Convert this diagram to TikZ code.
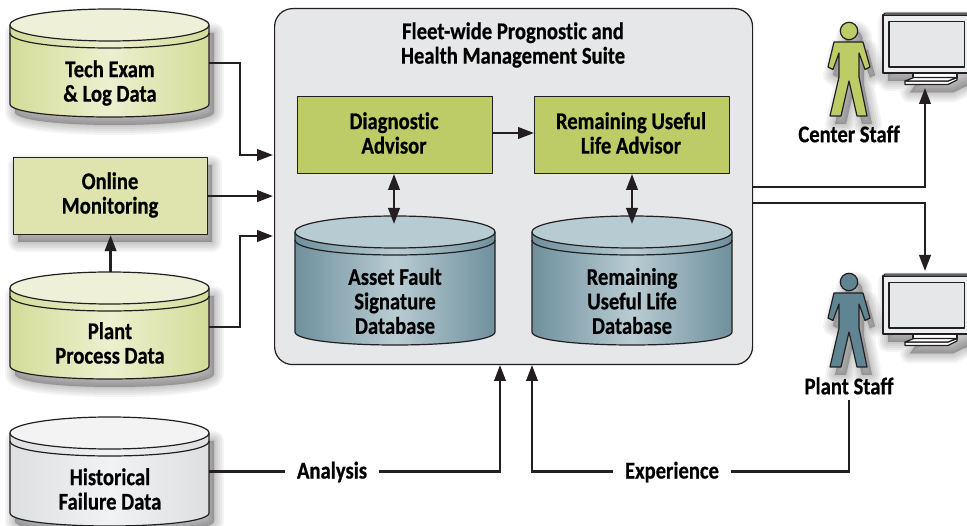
\documentclass[tikz,border=0pt]{standalone}
\usepackage{fontspec}
\setmainfont{Carlito}[BoldFont={Carlito Bold},BoldFeatures={FakeStretch=0.86,FakeBold=0.6,RawFeature={-liga;-clig}}]
\usetikzlibrary{arrows.meta,calc}
\definecolor{grnD}{HTML}{BDCC66}
\definecolor{grnE}{HTML}{D3DC98}
\definecolor{grnL}{HTML}{EDF0CF}
\definecolor{grnB}{HTML}{DFE4AE}
\definecolor{grnT}{HTML}{EEF1D8}
\definecolor{bluD}{HTML}{6E909C}
\definecolor{bluL}{HTML}{B9CCD3}
\definecolor{bluT}{HTML}{B7CBD2}
\definecolor{bluP}{HTML}{5F8593}
\definecolor{gryD}{HTML}{DEDFE1}
\definecolor{gryL}{HTML}{F1F2F3}
\definecolor{gryT}{HTML}{F3F3F4}
\definecolor{gryS}{HTML}{E6E7E8}
\definecolor{ink}{HTML}{231F20}
\tikzset{
  x=1pt,y=-1pt,
  lbl/.style={font=\fontsize{24}{24.5}\selectfont\bfseries,align=center,text=black,inner sep=0pt},
  outl/.style={draw=ink,line width=1.2pt,line join=round},
  box/.style={outl,inner sep=0pt,anchor=north west},
  ghost/.style={inner sep=0pt,outer sep=0pt,anchor=north west},
  arr/.style={draw=ink,line width=2.4pt,-{Triangle[length=16pt,width=11.5pt]}},
  darr/.style={draw=ink,line width=2.4pt,{Triangle[length=16pt,width=11.5pt]}-{Triangle[length=16pt,width=11.5pt]}},
  plain/.style={draw=ink,line width=2.4pt},
}
% soft shadow of a path
\newcommand{\softshadow}[1]{%
  \begin{scope}[shift={(5,8)}]
    \foreach \w in {20,16,12,8,4,1}{
      \path[draw=black,fill=black,opacity=.045,line width=\w pt,line join=round] #1;
    }
  \end{scope}}
% side and bottom edge of a cylinder
\newcommand{\cylbody}[4]{(#1,#3+16) -- (#1,#4-13) .. controls (#1,#4-5) and (\cx-\rx*.55,#4) .. (\cx,#4) .. controls (\cx+\rx*.55,#4) and (#2,#4-5) .. (#2,#4-13) -- (#2,#3+16)}
% name, x-left, x-right, top, bottom, side colour dark, light, top colour
\newcommand{\cyl}[8]{%
  \pgfmathsetmacro{\cx}{(#2+#3)/2}
  \pgfmathsetmacro{\rx}{(#3-#2)/2}
  \shade[left color=#6,right color=#6,middle color=#7] \cylbody{#2}{#3}{#4}{#5} -- cycle;
  \draw[outl] \cylbody{#2}{#3}{#4}{#5};
  \draw[outl] (#2,#4+24) .. controls (#2,#4+33) and (\cx-\rx*.55,#4+39) .. (\cx,#4+39) .. controls (\cx+\rx*.55,#4+39) and (#3,#4+33) .. (#3,#4+24);
  \draw[outl,fill=#8] (#2,#4+16) .. controls (#2,#4+7) and (\cx-\rx*.55,#4) .. (\cx,#4) .. controls (\cx+\rx*.55,#4) and (#3,#4+7) .. (#3,#4+16) .. controls (#3,#4+25) and (\cx+\rx*.55,#4+32) .. (\cx,#4+32) .. controls (\cx-\rx*.55,#4+32) and (#2,#4+25) .. (#2,#4+16) -- cycle;
  \pgfmathsetmacro{\cw}{#3-#2}
  \pgfmathsetmacro{\ch}{#5-#4}
  \node[ghost,minimum width=\cw pt,minimum height=\ch pt] (#1) at (#2,#4) {};
}
\newcommand{\cylshadow}[4]{%
  \pgfmathsetmacro{\cx}{(#1+#2)/2}
  \pgfmathsetmacro{\rx}{(#2-#1)/2}
  \softshadow{\cylbody{#1}{#2}{#3}{#4} -- cycle}}
% person: dy, fill
\newcommand{\person}[2]{%
  \begin{scope}[shift={(0,#1)}]
    \def\bodyp{(834,42) -- (828,67) -- (833,69.5) -- (839,53) -- (839,77) -- (830,116) -- (841,116) -- (849,81) -- (857,116) -- (867,116) -- (859,77) -- (859,53) -- (865,69.5) -- (870,67) -- (863,42) -- cycle}
    \softshadow{\bodyp}
    \softshadow{(849,31) circle[radius=8.5]}
    \draw[outl,fill=#2] \bodyp;
    \draw[outl,fill=#2] (849,31) circle[radius=8.7];
  \end{scope}}
% monitor: dy
\newcommand{\monitor}[1]{%
  \begin{scope}[shift={(0,#1)}]
    \softshadow{(883,13) -- (975,13) -- (975,73) -- (957,80) -- (948,84.5) -- (905,84.5) -- (913,73) -- (883,73) -- cycle}
    \draw[outl,fill=white] (913,72) -- (913,78) -- (957,78) -- (957,72);
    \draw[outl,fill=white] (905,84.5) -- (948,84.5) -- (957,80) -- (957,77.5) -- (948,81) -- (905,81) -- cycle;
    \draw[outl,fill=white] (905,81) -- (914,77.5) -- (957,77.5) -- (948,81) -- cycle;
    \draw[outl,fill=gryS!70!white] (883,15) rectangle (975,73);
    \draw[draw=ink,line width=.8pt,fill=gray] (883,15) -- (885,13) -- (975,13) -- (975,15) -- cycle;
    \draw[outl,fill=gryS] (889,21.5) rectangle (964.5,67);
  \end{scope}}
\begin{document}
\begin{tikzpicture}
\useasboundingbox (0,0) rectangle (967,526);
\fill[white] (0,0) rectangle (967,526);
\begin{scope}
\clip (0,0) rectangle (967,526);

% Main suite box
\node[box,fill=gryS,rounded corners=18pt,minimum width=478pt,minimum height=356pt] (suite) at (274,8) {};
\node[lbl] (title) at (513,45) {Fleet-wide Prognostic and\\Health Management Suite};

% Left sources
\cylshadow{10}{209}{9}{117}
\cyl{tech}{10}{209}{9}{117}{grnE}{grnL}{grnT}
\node[lbl] (techl) at (110,83) {Tech Exam\\\& Log Data};

\softshadow{(13,157) rectangle (207,234)}
\node[box,fill=grnB,minimum width=194pt,minimum height=77pt] (online) at (13,157) {};
\node[lbl] (onlinel) at (110,195) {Online\\Monitoring};

\cylshadow{10}{209}{272}{379}
\cyl{plant}{10}{209}{272}{379}{grnE}{grnL}{grnT}
\node[lbl] (plantl) at (110,343) {Plant\\Process Data};

\cylshadow{10}{209}{417}{526}
\cyl{hist}{10}{209}{417}{526}{gryD}{gryL}{gryT}
\node[lbl] (histl) at (110,489) {Historical\\Failure Data};

% Inner advisors
\node[box,fill=grnD,minimum width=195pt,minimum height=77pt] (diag) at (297,96) {};
\node[lbl] (diagl) at (394,133) {Diagnostic\\Advisor};
\node[box,fill=grnD,minimum width=195pt,minimum height=77pt] (rul) at (534,96) {};
\node[lbl] (rull) at (631,133) {Remaining Useful\\Life Advisor};

% Inner databases
\cyl{asset}{295}{495}{216}{345}{bluD}{bluL}{bluT}
\node[lbl] (assetl) at (395,301) {Asset Fault\\Signature\\Database};
\cyl{ruldb}{532}{732}{216}{345}{bluD}{bluL}{bluT}
\node[lbl] (ruldbl) at (632,301) {Remaining\\Useful Life\\Database};

% People and monitors
\person{0}{grnD}
\monitor{0}
\node[ghost,minimum width=84pt,minimum height=60pt] (mon1) at (883,13) {};
\node[lbl] (cstaff) at (849,134) {Center Staff};
\person{251}{bluP}
\monitor{261}
\node[ghost,minimum width=84pt,minimum height=60pt] (mon2) at (883,274) {};
\node[lbl] (pstaff) at (849,386) {Plant Staff};

% Flow labels
\node[lbl] (analysis) at (332,472) {Analysis};
\node[lbl] (experience) at (672,472) {Experience};

% Entry points
\coordinate (in1) at (273,155);
\coordinate (in3) at (273,236);
\coordinate (tipA) at (394,224);
\coordinate (tipB) at (632,224);
\coordinate (mon1in) at (925,88);
\coordinate (mon2in) at (925,271);
\coordinate (out1) at (752,187);
\coordinate (out2) at (752,203);
\coordinate (inA) at (500,365);
\coordinate (inE) at (532,365);

% Connectors
\draw[arr] (tech.east) -- ++(31,0) |- (in1);
\draw[arr] (online.east) -- (online.east -| in1);
\draw[arr] ([yshift=-1.5pt]plant.east) -- ++(31,0) |- (in3);
\draw[arr] (plant.north -| online.south) -- (online.south);
\draw[arr] (diag.east |- 0,133) -- (rul.west |- 0,133);
\draw[darr] (394,174) -- (tipA);
\draw[darr] (632,174) -- (tipB);
\draw[arr] (out1) -| (mon1in);
\draw[arr] (out2) -| (mon2in);
\draw[plain] (hist.east) -- ++(76,0);
\draw[arr] (analysis.east |- hist.east) ++(12,0) -| (inA);
\draw[plain] (849,400) |- ([xshift=12pt]experience.east |- hist.east);
\draw[arr] ([xshift=-12pt]experience.west |- hist.east) -| (inE);
\end{scope}
\end{tikzpicture}
\end{document}
